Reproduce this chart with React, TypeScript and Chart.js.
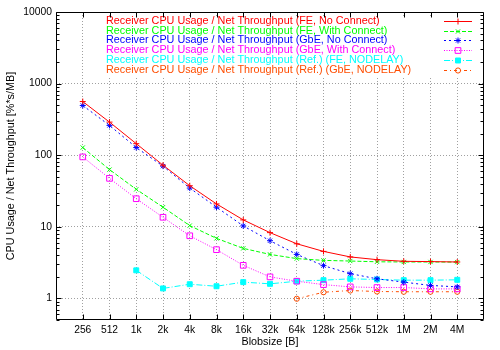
import React, { useEffect, useRef } from "react";
import { Chart, registerables } from "chart.js";
import { drawPoint } from "chart.js/helpers";

Chart.register(...registerables);

const blobSizes = ["256", "512", "1k", "2k", "4k", "8k", "16k", "32k", "64k", "128k", "256k", "512k", "1M", "2M", "4M"];
const feNoConnect = [562, 290, 145, 72.6, 37.5, 20.9, 12.5, 8.3, 5.8, 4.54, 3.8, 3.48, 3.3, 3.27, 3.23];
const feWithConnect = [128, 63, 33.4, 18.8, 10.4, 6.9, 5.0, 4.12, 3.6, 3.4, 3.33, 3.25, 3.23, 3.23, 3.22];
const gbeNoConnect = [495, 261, 128, 70.4, 34.8, 18.8, 10.3, 6.4, 4.12, 2.87, 2.22, 1.88, 1.69, 1.52, 1.45];
const gbeWithConnect = [94.7, 47.5, 24.7, 13.6, 7.5, 4.8, 2.9, 2.0, 1.74, 1.56, 1.45, 1.42, 1.42, 1.36, 1.36];
const refFeNodelay = [null, null, 2.47, 1.38, 1.58, 1.48, 1.69, 1.6, 1.74, 1.8, 1.88, 1.84, 1.8, 1.8, 1.82];
const refGbeNodelay = [null, null, null, null, null, null, null, null, 0.99, 1.22, 1.29, 1.25, 1.24, 1.24, 1.24];
const yTickValues = [1, 10, 100, 1000, 10000];

const seriesLabels = [
  "Receiver CPU Usage / Net Throughput (FE, No Connect)",
  "Receiver CPU Usage / Net Throughput (FE, With Connect)",
  "Receiver CPU Usage / Net Throughput (GbE, No Connect)",
  "Receiver CPU Usage / Net Throughput (GbE, With Connect)",
  "Receiver CPU Usage / Net Throughput (Ref.) (FE, NODELAY)",
  "Receiver CPU Usage / Net Throughput (Ref.) (GbE, NODELAY)",
];
const seriesValues = [feNoConnect, feWithConnect, gbeNoConnect, gbeWithConnect, refFeNodelay, refGbeNodelay];

const styles = [
  { color: "#ff0000", dash: [], pointStyle: "cross", radius: 3, fill: false },
  { color: "#00ff00", dash: [4, 2], pointStyle: "crossRot", radius: 3, fill: false },
  { color: "#0000ff", dash: [2, 3], pointStyle: "star", radius: 3, fill: false },
  { color: "#ff00ff", dash: [1, 1.5], pointStyle: "rect", radius: 4, fill: false },
  { color: "#00ffff", dash: [6, 2, 1, 2], pointStyle: "rect", radius: 3.5, fill: true },
  { color: "#ff4d00", dash: [3, 3, 1, 3], pointStyle: "circle", radius: 2.6, fill: false },
];

const FONT = "'Liberation Sans', Arial, Helvetica, sans-serif";

const gnuplotPlugin = {
  id: "gnuplotFrame",
  beforeDatasetsDraw(chart: any) {
    const ctx = chart.ctx as CanvasRenderingContext2D;
    ctx.save();
    // opaque key box
    ctx.fillStyle = "#ffffff";
    ctx.fillRect(100, 16, 380, 60);
    ctx.font = `10.8px ${FONT}`;
    ctx.textBaseline = "middle";
    ctx.textAlign = "left";
    seriesLabels.forEach((label, i) => {
      const st = styles[i];
      const y = Math.round(20.7 + 9.8 * i) + 0.5;
      ctx.fillStyle = st.color;
      ctx.fillText(label, 106, y);
      ctx.strokeStyle = st.color;
      ctx.lineWidth = 1;
      ctx.setLineDash(st.dash);
      ctx.beginPath();
      ctx.moveTo(444, y);
      ctx.lineTo(472, y);
      ctx.stroke();
      ctx.setLineDash([]);
      ctx.fillStyle = st.fill ? st.color : "rgba(0,0,0,0)";
      drawPoint(ctx, { pointStyle: st.pointStyle, radius: st.radius, rotation: 0, borderWidth: 1 } as any, 458, y);
    });
    ctx.restore();
  },
  afterDraw(chart: any) {
    const ctx = chart.ctx as CanvasRenderingContext2D;
    const a = chart.chartArea;
    const ys = chart.scales.y;
    const xs = chart.scales.x;
    const L = Math.round(a.left) + 0.5;
    const R = Math.round(a.right) - 0.5;
    const T = Math.round(a.top) + 0.5;
    const B = Math.round(a.bottom) - 0.5;
    ctx.save();
    ctx.strokeStyle = "#000";
    ctx.lineWidth = 1;
    ctx.setLineDash([]);
    ctx.beginPath();
    ctx.rect(L, T, R - L, B - T);
    for (let d = 0.1; d <= 10000; d *= 10) {
      for (let k = 1; k <= 9; k++) {
        const v = Math.round(d * k * 1000) / 1000;
        if (v < ys.min || v > ys.max) continue;
        const py = Math.round(ys.getPixelForValue(v)) + 0.5;
        const len = k === 1 ? 5 : 3;
        ctx.moveTo(L, py);
        ctx.lineTo(L + len, py);
        ctx.moveTo(R, py);
        ctx.lineTo(R - len, py);
      }
    }
    blobSizes.forEach((_, i) => {
      const px = Math.round(xs.getPixelForValue(i)) + 0.5;
      ctx.moveTo(px, B);
      ctx.lineTo(px, B - 5);
      ctx.moveTo(px, T);
      ctx.lineTo(px, T + 5);
    });
    ctx.stroke();
    ctx.restore();
  },
};

export default function App() {
  const ref = useRef<HTMLCanvasElement>(null);
  useEffect(() => {
    const datasets = seriesValues.map((vals, si) => {
      const st = styles[si];
      const data = vals
        .map((v, i) => (v == null ? null : { x: i, y: v }))
        .filter((p) => p !== null);
      return {
        label: seriesLabels[si],
        data,
        borderColor: st.color,
        backgroundColor: st.fill ? st.color : "rgba(0,0,0,0)",
        borderWidth: 1,
        borderDash: st.dash,
        pointStyle: st.pointStyle,
        pointRadius: st.radius,
        pointBorderWidth: 1,
        pointBorderColor: st.color,
        pointBackgroundColor: st.fill ? st.color : "rgba(0,0,0,0)",
        tension: 0,
        fill: false,
      };
    });
    const chart = new Chart(ref.current as HTMLCanvasElement, {
      type: "line",
      data: { datasets: datasets as any },
      plugins: [gnuplotPlugin as any],
      options: {
        responsive: false,
        animation: false,
        devicePixelRatio: 1,
        layout: { padding: { top: 12, right: 16, left: 0, bottom: 0 } },
        plugins: { legend: { display: false }, tooltip: { enabled: false } },
        scales: {
          x: {
            type: "linear",
            min: -1,
            max: 15,
            afterBuildTicks: (s: any) => {
              s.ticks = blobSizes.map((_, i) => ({ value: i }));
            },
            afterFit: (s: any) => {
              s.height = 30;
            },
            ticks: {
              autoSkip: false,
              maxRotation: 0,
              padding: 4,
              color: "#000",
              font: { family: FONT, size: 10.3 },
              callback: (v: any) => blobSizes[v] ?? "",
            },
            grid: { color: "#a0a0a0", lineWidth: 1, drawTicks: false },
            border: { display: false, dash: [1, 2] },
            title: {
              display: true,
              text: "Blobsize [B]",
              color: "#000",
              font: { family: FONT, size: 10.8 },
              padding: { top: 0, bottom: 1 },
            },
          },
          y: {
            type: "logarithmic",
            min: 0.5,
            max: 10000,
            afterBuildTicks: (s: any) => {
              s.ticks = yTickValues.map((v) => ({ value: v }));
            },
            afterFit: (s: any) => {
              s.width = 56;
            },
            ticks: {
              padding: 4,
              color: "#000",
              font: { family: FONT, size: 10.3 },
              callback: (v: any) => String(v),
            },
            grid: { color: "#a0a0a0", lineWidth: 1, drawTicks: false },
            border: { display: false, dash: [1, 2] },
            title: {
              display: true,
              text: "CPU Usage / Net Throughput [%*s/MB]",
              color: "#000",
              font: { family: FONT, size: 10.8 },
              padding: { top: 5, bottom: 0 },
            },
          },
        },
      } as any,
    });
    return () => chart.destroy();
  }, []);
  return (
    <div style={{ position: "fixed", left: 0, top: 0, width: 500, height: 350, background: "#fff" }}>
      <canvas ref={ref} width={500} height={350} style={{ width: 500, height: 350, display: "block" }} />
    </div>
  );
}
